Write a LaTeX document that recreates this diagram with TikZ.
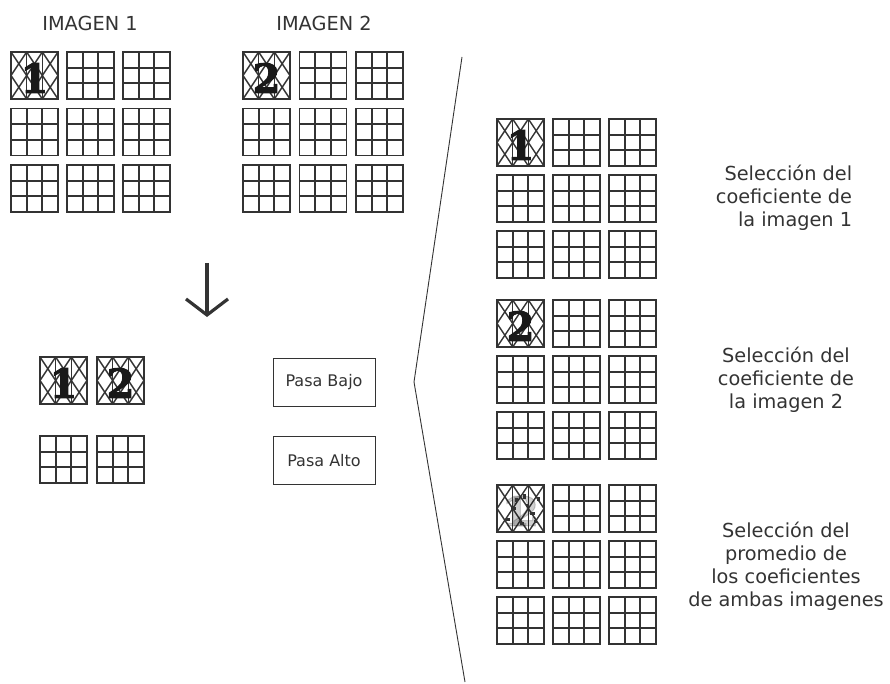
\documentclass[tikz,border=0pt]{standalone}
\usepackage{fontspec}
\setmainfont{DejaVu Sans}
\newfontfamily\cifrafont{DejaVu Serif}[BoldFeatures={FakeBold=2.5}]
\usetikzlibrary{arrows.meta}

\definecolor{tinta}{HTML}{333333}

\tikzset{
  rejilla/.style={draw=tinta, line width=1.8pt},
  hilo/.style={draw=tinta, line width=1.4pt},
  cifra/.style={inner sep=0pt, text=black!90, font=\cifrafont\bfseries\fontsize{40}{40}\selectfont},
  % bloque de 3x3 coeficientes
  pics/bloque/.style={code={
      \draw[rejilla] (0,0) rectangle (47,47);
      \draw[rejilla] (15.67,0) -- (15.67,47) (31.33,0) -- (31.33,47)
                     (0,15.67) -- (47,15.67) (0,31.33) -- (47,31.33);
  }},
  % coeficiente tramado con su numero
  pics/trama/.style={code={
      \fill[white] (0,0) rectangle (47,47);
      \begin{scope}
        \clip (0,0) rectangle (47,47);
        \foreach \c in {-70.5,-47,...,47}
          \draw[hilo] (0,\c) -- (47,{\c+70.5});
        \foreach \c in {0,23.5,...,117.5}
          \draw[hilo] (0,\c) -- (47,{\c-70.5});
        \draw[hilo] (15.67,0) -- (15.67,47) (31.33,0) -- (31.33,47);
      \end{scope}
      \draw[rejilla] (0,0) rectangle (47,47);
      \node[cifra] (-num) at (23.5,26) {#1};
  }},
  % promedio: trama con manchas sueltas
  pics/mezcla/.style={code={
      \pic {trama={}};
      \node[cifra, opacity=.2] (-uno) at (19,26) {1};
      \node[cifra, opacity=.2] (-dos) at (28,26) {2};
      \foreach \px/\py/\w/\h in {14/22/5/3, 26/9/3/5, 33/27/5/3, 23/37/4/3, 40/12/3/4,
                                 9/33/4/3, 29/19/3/3, 18/13/3/4, 37/35/3/3}
        \fill[tinta] (\px,\py) rectangle ++(\w,\h);
  }},
}

\begin{document}
\begin{tikzpicture}[x=1pt, y=-1pt]
  \tikzstyle{every node}=[text=tinta, font=\fontsize{19.3}{23}\selectfont]
  \tikzstyle{caja}=[draw=tinta, line width=.9pt, minimum width=102pt, minimum height=48pt, font=\fontsize{16}{19}\selectfont]

  \useasboundingbox (0,0) rectangle (890,684);

  \node (tit1) at (90,23) {IMAGEN 1};
  \node (tit2) at (324,23) {IMAGEN 2};

  % las dos imagenes
  \foreach \f in {0,1,2}
    \foreach \c in {0,1,2} {
      \pic at ({11+56*\c},{52+56.5*\f}) {bloque};
      \pic at ({243+56.5*\c},{52+56.5*\f}) {bloque};
    }
  \pic (a1) at (11,52) {trama=1};
  \pic (a2) at (243,52) {trama=2};

  \coordinate (flechaA) at (207,263);
  \coordinate (flechaB) at (207,317);
  \draw[tinta, line width=3.2pt, -{Straight Barb[length=16pt,width=42pt]}] (flechaA) -- (flechaB);

  \pic (b1) at (40,357) {trama=1};
  \pic (b2) at (97,357) {trama=2};
  \pic at (40,436) {bloque};
  \pic at (97,436) {bloque};

  \node[caja] (bajo) at (324,382) {Pasa Bajo};
  \node[caja] (alto) at (324,460.5) {Pasa Alto};

  \coordinate (sup) at (462,57);
  \coordinate (vert) at (414,382);
  \coordinate (inf) at (465,682);
  \draw[tinta, line width=.9pt] (sup) -- (vert) -- (inf);

  % reglas de fusion
  \foreach \y in {119,300,485}
    \foreach \f in {0,1,2}
      \foreach \c in {0,1,2}
        \pic at ({497+56*\c},{\y+56*\f}) {bloque};
  \pic (r1) at (497,119) {trama=1};
  \pic (r2) at (497,300) {trama=2};
  \pic (r3) at (497,485) {mezcla};

  \node[align=right] (sel1) at (784,198) {Selección del\\coeficiente de\\la imagen 1};
  \node[align=center] (sel2) at (786,380) {Selección del\\coeficiente de\\la imagen 2};
  \node[align=center] (sel3) at (786,566) {Selección del\\promedio de\\los coeficientes\\de ambas imagenes};
\end{tikzpicture}
\end{document}
